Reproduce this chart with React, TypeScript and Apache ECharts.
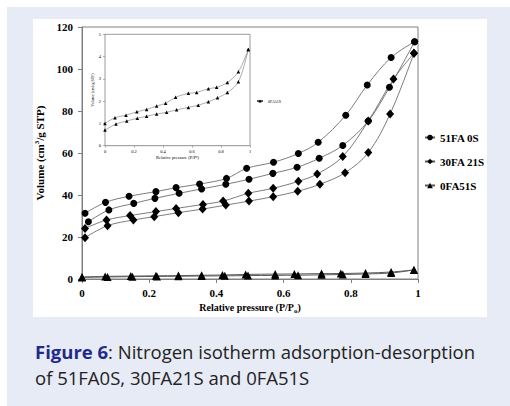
import React, { useEffect, useRef } from "react";
import * as echarts from "echarts";

// 51FA0S
const s51AdsX = [0.019, 0.08, 0.154, 0.217, 0.289, 0.356, 0.428, 0.497, 0.568, 0.64, 0.706, 0.776, 0.852, 0.915, 0.99];
const s51AdsY = [27.3, 32.9, 36.0, 38.4, 40.8, 42.9, 45.1, 47.5, 50.3, 53.2, 57.5, 63.6, 75.2, 91.3, 113];
const s51DesX = [0.99, 0.92, 0.849, 0.785, 0.703, 0.644, 0.57, 0.49, 0.43, 0.35, 0.28, 0.22, 0.14, 0.07, 0.009];
const s51DesY = [113, 105.5, 92.4, 78, 65.1, 59.8, 55.6, 52.7, 47.9, 45.2, 43.5, 41.6, 39.4, 36.5, 31.3];
// 30FA21S
const s30AdsX = [0.009, 0.076, 0.153, 0.215, 0.287, 0.359, 0.428, 0.497, 0.569, 0.642, 0.708, 0.783, 0.852, 0.917, 0.988];
const s30AdsY = [19.7, 25.4, 28.1, 29.7, 31.6, 33.3, 35.2, 37.1, 39.2, 41.8, 45.1, 50.6, 60.2, 78.6, 107.5];
const s30DesX = [0.988, 0.927, 0.852, 0.776, 0.7, 0.644, 0.569, 0.495, 0.42, 0.36, 0.28, 0.22, 0.143, 0.073, 0.009];
const s30DesY = [107.5, 95.2, 75.2, 58.3, 50.0, 46.5, 43.2, 40.8, 37.1, 35.5, 33.6, 32.1, 30.2, 28.1, 24.1];
// 0FA51S
const s0AdsX = [0.0, 0.076, 0.15, 0.223, 0.287, 0.356, 0.425, 0.494, 0.575, 0.643, 0.713, 0.776, 0.844, 0.92, 0.988];
const s0AdsY = [0.7, 0.97, 1.11, 1.23, 1.32, 1.42, 1.5, 1.61, 1.72, 1.82, 1.97, 2.15, 2.39, 2.87, 4.32];
const s0DesX = [0.988, 0.92, 0.844, 0.77, 0.713, 0.632, 0.575, 0.487, 0.418, 0.356, 0.287, 0.22, 0.145, 0.069, 0.0];
const s0DesY = [4.32, 3.32, 2.84, 2.62, 2.56, 2.39, 2.35, 2.17, 1.9, 1.78, 1.63, 1.52, 1.37, 1.25, 1.0];

const names = ["51FA 0S", "30FA 21S", "0FA51S"];
const captionBold = "Figure 6";
const captionLine1 = ": Nitrogen isotherm adsorption-desorption";
const captionLine2 = "of 51FA0S, 30FA21S and 0FA51S";

const zip = (xs: number[], ys: number[]) => xs.map((x, i) => [x, ys[i]]);

const SERIF = "'Liberation Serif', 'Times New Roman', serif";
const SANS = "'Open Sans', 'Noto Sans', sans-serif";
const LINE = "#5a5a5a";
const CAP = 18.5;

export default function App() {
  const ref = useRef<HTMLDivElement>(null);
  useEffect(() => {
    if (!ref.current) return;
    const chart = echarts.init(ref.current, undefined, { renderer: "svg" });
    const mk = (name: string, data: number[][], symbol: string, size: any, xi: number, lw = 0.8) => ({
      name,
      type: "line",
      xAxisIndex: xi,
      yAxisIndex: xi,
      data,
      smooth: 0.35,
      symbol,
      symbolSize: size,
      itemStyle: { color: "#000" },
      lineStyle: { color: LINE, width: lw },
      z: 5,
    });
    const tickLbl = (fs: number) => ({
      fontFamily: SERIF,
      fontWeight: "bold" as const,
      fontSize: fs,
      color: "#000",
    });
    chart.setOption({
      animation: false,
      backgroundColor: "#ffffff",
      graphic: [
        { type: "rect", z: -10, silent: true, shape: { x: 7, y: 7, width: 503, height: 399 }, style: { fill: "#e7ebf5" } },
        { type: "rect", z: -9, silent: true, shape: { x: 33, y: 19, width: 454, height: 298 }, style: { fill: "#ffffff" } },
        {
          type: "text",
          left: 35,
          top: 342,
          style: {
            text: "{b|" + captionBold + "}{n|" + captionLine1 + "}",
            fontFamily: SANS,
            fontSize: CAP,
            fill: "#222",
            rich: {
              b: { fontFamily: SANS, fontSize: CAP, fontWeight: "bold", fill: "#1f2a8c", color: "#1f2a8c" },
              n: { fontFamily: SANS, fontSize: CAP, fill: "#222", color: "#222" },
            },
          },
        },
        {
          type: "text",
          left: 35,
          top: 367.5,
          style: { text: captionLine2, fontFamily: SANS, fontSize: CAP, fill: "#222" },
        },
      ],
      legend: [
        {
          data: names,
          orient: "vertical",
          left: 419,
          top: 127,
          itemWidth: 10,
          itemHeight: 7,
          itemGap: 13,
          textStyle: { fontFamily: SERIF, fontWeight: "bold", fontSize: 11, color: "#000" },
          selectedMode: false,
        },
        {
          data: ["0FA51S"],
          orient: "vertical",
          left: 251,
          top: 94,
          itemWidth: 6,
          itemHeight: 4,
          textStyle: { fontFamily: SERIF, fontSize: 4, color: "#000" },
          selectedMode: false,
        },
      ],
      grid: [
        { left: 82, top: 27, width: 336, height: 252, show: true, borderColor: "#808080", borderWidth: 1, backgroundColor: "transparent" },
        { left: 105, top: 34.3, width: 145, height: 111.4, show: true, borderColor: "#808080", borderWidth: 0.8, backgroundColor: "#fff", z: 3 },
      ],
      xAxis: [
        {
          type: "value",
          gridIndex: 0,
          min: 0,
          max: 1,
          interval: 0.2,
          name: "Relative pressure (P/P{s|o})",
          nameLocation: "middle",
          nameGap: 22,
          nameTextStyle: {
            fontFamily: SERIF,
            fontWeight: "bold",
            fontSize: 10,
            color: "#000",
            rich: { s: { fontFamily: SERIF, fontWeight: "bold", fontSize: 7, verticalAlign: "bottom", padding: [6, 0, 0, 0] } },
          },
          axisLine: { show: true, lineStyle: { color: "#808080", width: 1 } },
          axisTick: { show: true, inside: false, length: 4, lineStyle: { color: "#808080" } },
          splitLine: { show: false },
          axisLabel: { ...tickLbl(11), margin: 8 },
        },
        {
          type: "value",
          gridIndex: 1,
          min: 0,
          max: 1,
          interval: 0.2,
          name: "Relative pressure (P/P{s|o})",
          nameLocation: "middle",
          nameGap: 9,
          nameTextStyle: {
            fontFamily: SERIF,
            fontSize: 4.5,
            color: "#000",
            rich: { s: { fontFamily: SERIF, fontSize: 3.5 } },
          },
          axisLine: { show: true, lineStyle: { color: "#808080", width: 0.8 } },
          axisTick: { show: true, length: 2, lineStyle: { color: "#808080", width: 0.6 } },
          splitLine: { show: false },
          axisLabel: { fontFamily: SERIF, fontSize: 4.5, color: "#000", margin: 3 },
        },
      ],
      yAxis: [
        {
          type: "value",
          gridIndex: 0,
          min: 0,
          max: 120,
          interval: 20,
          name: "Volume (cm{u|3}/g STP)",
          nameLocation: "middle",
          nameGap: 30,
          nameTextStyle: {
            fontFamily: SERIF,
            fontWeight: "bold",
            fontSize: 11,
            color: "#000",
            rich: { u: { fontFamily: SERIF, fontWeight: "bold", fontSize: 7, verticalAlign: "top", padding: [0, 0, 6, 0] } },
          },
          axisLine: { show: true, lineStyle: { color: "#808080", width: 1 } },
          axisTick: { show: true, length: 4, lineStyle: { color: "#808080" } },
          splitLine: { show: false },
          axisLabel: { ...tickLbl(11), margin: 9 },
        },
        {
          type: "value",
          gridIndex: 1,
          min: 0,
          max: 5,
          interval: 1,
          name: "Volume (cm{u|3}/g STP)",
          nameLocation: "middle",
          nameGap: 8,
          nameTextStyle: { fontFamily: SERIF, fontSize: 4, color: "#000", rich: { u: { fontFamily: SERIF, fontSize: 3 } } },
          axisLine: { show: true, lineStyle: { color: "#808080", width: 0.8 } },
          axisTick: { show: true, length: 2, lineStyle: { color: "#808080", width: 0.6 } },
          splitLine: { show: false },
          axisLabel: { fontFamily: SERIF, fontSize: 4.5, color: "#000", margin: 4 },
        },
      ],
      series: [
        mk(names[0], zip(s51AdsX, s51AdsY), "circle", 7, 0),
        mk(names[0], zip(s51DesX, s51DesY), "circle", 7, 0),
        mk(names[1], zip(s30AdsX, s30AdsY), "diamond", [8, 9], 0),
        mk(names[1], zip(s30DesX, s30DesY), "diamond", [8, 9], 0),
        mk(names[2], zip(s0AdsX, s0AdsY), "triangle", 8, 0, 1),
        mk(names[2], zip(s0DesX, s0DesY), "triangle", 8, 0, 1),
        mk(names[2], zip(s0AdsX, s0AdsY), "triangle", 3.5, 1, 0.5),
        mk(names[2], zip(s0DesX, s0DesY), "triangle", 3.5, 1, 0.5),
      ],
    });
    return () => chart.dispose();
  }, []);
  return <div ref={ref} style={{ position: "fixed", left: 0, top: 0, width: 510, height: 406 }} />;
}
